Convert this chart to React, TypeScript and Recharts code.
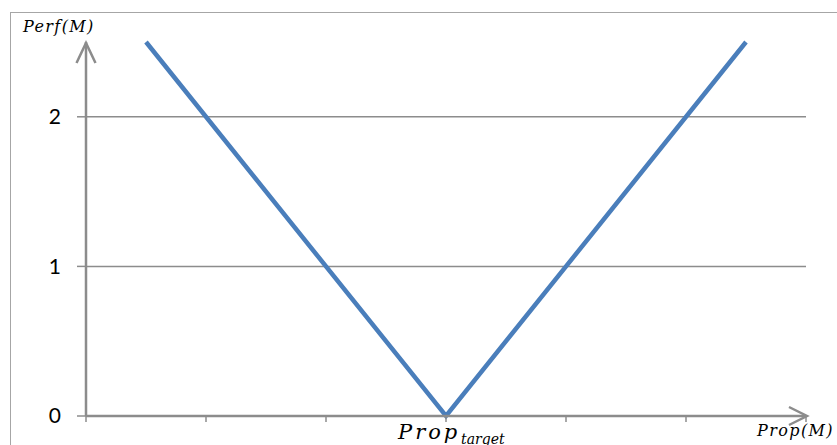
import React from "react";
import { LineChart, Line, XAxis, YAxis, CartesianGrid } from "recharts";

const xTicks = [0, 1, 2, 3, 4, 5, 6];
const yTicks = [0, 1, 2];
const gridValues = [1, 2];
const propValues = [0.5, 3, 5.5];
const perfValues = [2.5, 0, 2.5];
const yLabel = "Perf(M)";
const xLabel = "Prop(M)";
const targetMain = "Prop";
const targetSub = "target";

const data = propValues.map((p, i) => ({ prop: p, perf: perfValues[i] }));

const AXIS = "#8c8c8c";
const MATH_FONT = "'DejaVu Serif', serif";

const XAxisDecor = (props: any) => {
  const vb = props.viewBox || { x: 86, y: 416, width: 720, height: 29 };
  const y0 = vb.y;
  const xEnd = vb.x + vb.width + 1;
  const xMid = vb.x + vb.width / 2;
  return (
    <g>
      <polyline
        points={`${xEnd - 18},${y0 - 9} ${xEnd},${y0} ${xEnd - 18},${y0 + 9}`}
        fill="none"
        stroke={AXIS}
        strokeWidth={2.5}
      />
      <text
        x={xMid - 48}
        y={y0 + 23}
        fontFamily={MATH_FONT}
        fontStyle="italic"
        fontSize={21}
        letterSpacing={3}
        fill="#000"
      >
        {targetMain}
      </text>
      <text
        x={xMid + 15}
        y={y0 + 28}
        fontFamily={MATH_FONT}
        fontStyle="italic"
        fontSize={14}
        fill="#000"
      >
        {targetSub}
      </text>
      <text
        x={xEnd - 50}
        y={y0 + 20}
        fontFamily={MATH_FONT}
        fontStyle="italic"
        fontSize={16}
        letterSpacing={1.4}
        fill="#000"
      >
        {xLabel}
      </text>
    </g>
  );
};

const YAxisDecor = (props: any) => {
  const vb = props.viewBox || { x: 0, y: 42, width: 86, height: 374 };
  const xA = vb.x + vb.width;
  const yTop = vb.y + 1;
  return (
    <g>
      <polyline
        points={`${xA - 9.5},${yTop + 20} ${xA},${yTop} ${xA + 9.5},${yTop + 20}`}
        fill="none"
        stroke={AXIS}
        strokeWidth={2.5}
      />
      <text
        x={xA - 63}
        y={yTop - 11}
        fontFamily={MATH_FONT}
        fontStyle="italic"
        fontSize={16}
        letterSpacing={1.4}
        fill="#000"
      >
        {yLabel}
      </text>
    </g>
  );
};

export default function App() {
  return (
    <div
      style={{
        position: "absolute",
        left: 0,
        top: 0,
        width: 837,
        height: 445,
        overflow: "hidden",
        background: "#fff",
      }}
    >
      <div
        style={{
          position: "absolute",
          left: 10,
          top: 12,
          width: 900,
          height: 500,
          borderLeft: "1.5px solid #a6a6a6",
          borderTop: "1.5px solid #a6a6a6",
        }}
      />
      <div style={{ position: "absolute", left: 0, top: 0 }}>
        <LineChart width={837} height={445} data={data} margin={{ top: 42, right: 31, bottom: 0, left: 0 }}>
          <CartesianGrid
            vertical={false}
            horizontalValues={gridValues}
            stroke={AXIS}
            strokeWidth={1.5}
          />
          <XAxis
            type="number"
            dataKey="prop"
            domain={[0, 6]}
            ticks={xTicks}
            interval={0}
            height={29}
            axisLine={{ stroke: AXIS, strokeWidth: 2.5 }}
            tickLine={{ stroke: AXIS, strokeWidth: 1.5 }}
            tickSize={6}
            tick={() => <g />}
            label={<XAxisDecor />}
          />
          <YAxis
            type="number"
            domain={[0, 2.5]}
            ticks={yTicks}
            interval={0}
            width={86}
            axisLine={{ stroke: AXIS, strokeWidth: 2.5 }}
            tickLine={{ stroke: AXIS, strokeWidth: 1.5 }}
            tickSize={9}
            tickMargin={16}
            tick={{ fill: "#000", fontSize: 21, fontFamily: "Lato, 'Open Sans', sans-serif" }}
            label={<YAxisDecor />}
          />
          <Line
            type="linear"
            dataKey="perf"
            stroke="#4a7ebb"
            strokeWidth={4.5}
            dot={false}
            isAnimationActive={false}
          />
        </LineChart>
      </div>
    </div>
  );
}
